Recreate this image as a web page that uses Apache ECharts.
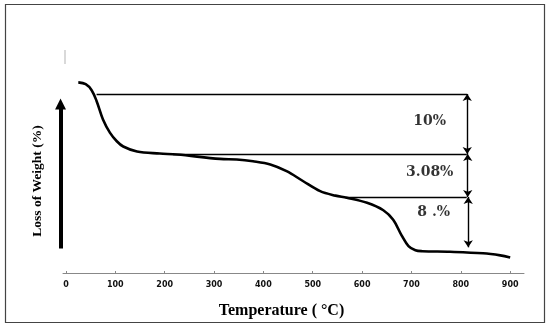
<!DOCTYPE html>
<html><head><meta charset="utf-8">
<script src="https://cdn.jsdelivr.net/npm/echarts@6/dist/echarts.min.js"></script>
<style>html,body{margin:0;padding:0;background:#fff}#c{width:550px;height:328px}</style>
</head><body><div id="c"></div>
<script>
// TGA curve: temperature (°C) and remaining weight (%)
const temperature = [25, 40, 52, 62, 75, 89, 103, 116, 144, 190, 225, 312, 346, 379, 414, 447, 480, 515, 546, 569, 610, 643, 663, 680, 694, 708, 722, 778, 845, 880, 900];
const weight      = [99.9, 99.6, 98.6, 96.8, 93.7, 91.5, 90.05, 89.17, 88.33, 88.0, 87.83, 87.1, 87.0, 86.7, 86.17, 85.05, 83.4, 81.7, 80.95, 80.6, 79.75, 78.5, 76.9, 74.3, 72.5, 71.8, 71.65, 71.55, 71.3, 70.95, 70.6];
const xTicks = [0, 100, 200, 300, 400, 500, 600, 700, 800, 900];

// reference levels (horizontal lines): [startTemp, endTemp, level]
const levelLines = [[62, 813, 97.95], [217, 812, 87.9], [566, 812, 80.72]];
// double arrows: [temp, fromLevel, toLevel]
const stepArrows = [[813, 97.95, 87.9], [814, 87.9, 80.72], [815, 80.72, 72.3]];
// step labels: [text, temp, level]
const stepLabels = [["10%", 737, 93.3], ["3.08%", 737, 84.8], ["8 .%", 745, 78.1]];
// big direction arrow on the left: [temp, fromLevel, toLevel]
const bigArrow = [-11, 72.1, 96.3];

const chart = echarts.init(document.getElementById('c'));
chart.setOption({
  animation: false,
  backgroundColor: '#fff',
  grid: {left: 63, right: 26, top: 40, bottom: 55},
  xAxis: {
    type: 'value', min: -6, max: 928,
    name: 'Temperature ( °C)', nameLocation: 'middle', nameGap: 30,
    nameTextStyle: {fontFamily: 'Liberation Serif', fontWeight: 'bold', fontSize: 16, color: '#000', padding: [0, 24, 0, 0]},
    axisLine: {show: true, lineStyle: {color: '#888', width: 1}},
    axisTick: {show: true, inside: true, length: 2, customValues: xTicks, lineStyle: {color: '#888'}},
    axisLabel: {customValues: xTicks, fontFamily: 'DejaVu Sans', fontWeight: 'bold', fontSize: 8, color: '#111', margin: 8},
    splitLine: {show: false}
  },
  yAxis: {
    type: 'value', min: 68, max: 107, show: false, splitLine: {show: false}
  },
  graphic: [
    {type: 'rect', shape: {x: 5.5, y: 4.5, width: 539, height: 318}, style: {fill: 'none', stroke: '#444', lineWidth: 1.2}, silent: true},
    {type: 'line', shape: {x1: 65, y1: 50, x2: 65, y2: 64}, style: {stroke: '#ccc', lineWidth: 1.5}, silent: true},
    {type: 'text', x: 38, y: 181, rotation: Math.PI / 2, style: {text: 'Loss of Weight (%)', font: 'bold 13.5px "Liberation Serif"', fill: '#000', align: 'center', verticalAlign: 'middle'}}
  ],
  series: [
    {
      type: 'line', data: temperature.map((t, i) => [t, weight[i]]),
      smooth: 0.35, showSymbol: false, symbol: 'none',
      lineStyle: {color: '#000', width: 2.6}
    },
    {
      type: 'lines', coordinateSystem: 'cartesian2d', polyline: false, clip: false,
      symbol: ['none', 'none'],
      lineStyle: {color: '#000', width: 1.4, opacity: 1},
      data: levelLines.map(l => ({coords: [[l[0], l[2]], [l[1], l[2]]]}))
    },
    {
      type: 'lines', coordinateSystem: 'cartesian2d', polyline: false, clip: false,
      symbol: ['arrow', 'arrow'], symbolSize: 7,
      lineStyle: {color: '#000', width: 1.4, opacity: 1},
      data: stepArrows.map(a => ({coords: [[a[0], a[1]], [a[0], a[2]]]}))
    },
    {
      type: 'lines', coordinateSystem: 'cartesian2d', polyline: false, clip: false,
      symbol: ['none', 'triangle'], symbolSize: [13, 11],
      lineStyle: {color: '#000', width: 4, opacity: 1},
      data: [{coords: [[bigArrow[0], bigArrow[1]], [bigArrow[0], bigArrow[2]]]}]
    },
    {
      type: 'scatter', symbolSize: 0, silent: true,
      data: stepLabels.map(s => ({value: [s[1], s[2]], name: s[0]})),
      label: {show: true, position: 'inside', formatter: p => p.name,
        fontFamily: 'DejaVu Serif', fontWeight: 'bold', fontSize: 14, color: '#000'}
    }
  ]
});
</script></body></html>
